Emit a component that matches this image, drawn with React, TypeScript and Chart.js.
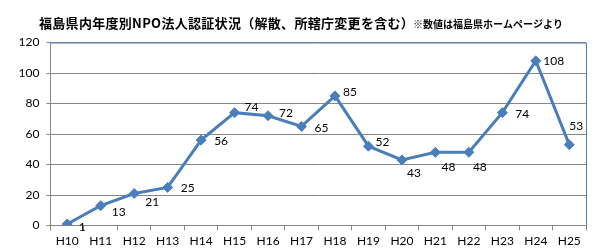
import { useEffect, useRef } from 'react';
import { Chart, registerables } from 'chart.js';

Chart.register(...registerables);

const categories = ['H10', 'H11', 'H12', 'H13', 'H14', 'H15', 'H16', 'H17', 'H18', 'H19', 'H20', 'H21', 'H22', 'H23', 'H24', 'H25'];
const counts = [1, 13, 21, 25, 56, 74, 72, 65, 85, 52, 43, 48, 48, 74, 108, 53];
const yTickValues = [0, 20, 40, 60, 80, 100, 120];
const titleMain = '福島県内年度別NPO法人認証状況（解散、所轄庁変更を含む）';
const titleNote = '※数値は福島県ホームページより';

// label placement relative to each point (styling)
const labelOffsets: [number, number][] = [
  [15, 3], [18, 6], [18, 9], [20, 1], [20, 1], [17, -6], [18, -3], [20, 2],
  [15, -4], [14, -4], [12, 13], [13, 15], [11, 15], [20, 1], [18, 0], [7, -19],
];

const LINE = '#4A7EBB';
const GRID = '#868686';
const FONT = 'Lato, "Liberation Sans", sans-serif';

export default function App() {
  const ref = useRef<HTMLCanvasElement | null>(null);

  useEffect(() => {
    document.body.style.margin = '0';
    const canvas = ref.current;
    if (!canvas) return;

    const decor = {
      id: 'decor',
      beforeDatasetsDraw(chart: any) {
        const { ctx, chartArea } = chart;
        ctx.save();
        ctx.strokeStyle = LINE;
        ctx.lineWidth = 1;
        ctx.beginPath();
        ctx.moveTo(chartArea.left, chartArea.top + 0.5);
        ctx.lineTo(chartArea.right + 0.5, chartArea.top + 0.5);
        ctx.lineTo(chartArea.right + 0.5, chartArea.bottom);
        ctx.stroke();
        ctx.restore();
      },
      afterDatasetsDraw(chart: any) {
        const { ctx } = chart;
        const meta = chart.getDatasetMeta(0);
        ctx.save();
        ctx.fillStyle = '#000';
        ctx.font = `12px ${FONT}`;
        ctx.textAlign = 'center';
        ctx.textBaseline = 'middle';
        meta.data.forEach((pt: any, i: number) => {
          const [dx, dy] = labelOffsets[i] || [15, 0];
          ctx.fillText(String(counts[i]), pt.x + dx, pt.y + dy);
        });
        ctx.restore();
      },
      afterDraw(chart: any) {
        const { ctx } = chart;
        ctx.save();
        ctx.fillStyle = '#000';
        ctx.textBaseline = 'middle';
        ctx.textAlign = 'left';
        ctx.font = 'bold 13px "Noto Sans CJK JP", sans-serif';
        (ctx as any).letterSpacing = '0.3px';
        ctx.fillText(titleMain, 39, 23);
        ctx.font = 'bold 10px "Noto Sans CJK JP", sans-serif';
        (ctx as any).letterSpacing = '0px';
        ctx.fillText(titleNote, 413, 24.5);
        ctx.restore();
      },
    };

    const chart = new Chart(canvas, {
      type: 'line',
      data: {
        labels: categories,
        datasets: [
          {
            data: counts,
            borderColor: LINE,
            backgroundColor: LINE,
            borderWidth: 3,
            pointStyle: 'rectRot',
            pointRadius: 5,
            pointBorderWidth: 1,
            pointBackgroundColor: LINE,
            pointBorderColor: LINE,
            tension: 0,
          },
        ],
      },
      options: {
        animation: false,
        responsive: false,
        maintainAspectRatio: false,
        layout: { padding: { top: 42.5, right: 26, left: 0, bottom: 0 } },
        plugins: { legend: { display: false }, tooltip: { enabled: false }, title: { display: false } },
        scales: {
          x: {
            type: 'category',
            offset: true,
            grid: { offset: true, drawOnChartArea: false, drawTicks: true, tickLength: 5, color: GRID },
            border: { display: true, color: GRID },
            ticks: { color: '#000', font: { family: FONT, size: 12 }, padding: 3, maxRotation: 0, autoSkip: false },
            afterFit: (s: any) => { s.height = 25.5; },
          },
          y: {
            min: 0,
            max: 120,
            afterBuildTicks: (s: any) => { s.ticks = yTickValues.map((v) => ({ value: v })); },
            grid: { color: GRID, tickLength: 4, drawTicks: true },
            border: { display: true, color: GRID },
            ticks: { color: '#000', font: { family: FONT, size: 12 }, padding: 7 },
            afterFit: (s: any) => { s.width = 50.5; },
          },
        },
      },
      plugins: [decor],
    });

    return () => chart.destroy();
  }, []);

  return (
    <div style={{ width: 612, height: 251, background: '#fff' }}>
      <canvas ref={ref} width={612} height={251} style={{ display: 'block' }} />
    </div>
  );
}
